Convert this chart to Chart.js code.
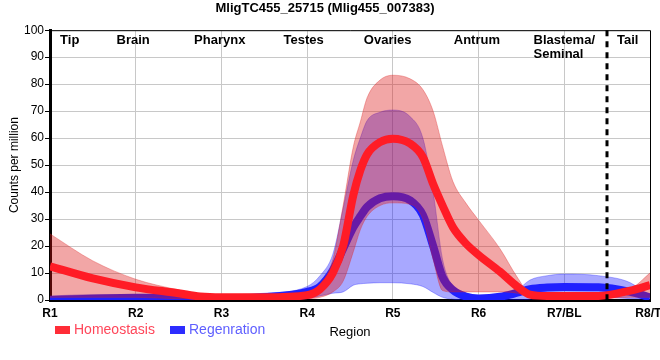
<!DOCTYPE html>
<html>
<head>
<meta charset="utf-8">
<script src="https://cdn.jsdelivr.net/npm/chart.js@4.4.1/dist/chart.umd.min.js"></script>
<style>
  html, body { margin: 0; padding: 0; background: #fff; }
  #wrap { width: 660px; height: 360px; }
</style>
</head>
<body>
<div id="wrap"><canvas id="chart" width="660" height="360"></canvas></div>
<script>
const xs = [1, 1.5, 2, 2.5, 2.75, 3, 3.5, 4, 4.15, 4.3, 4.42, 4.54, 4.62, 4.7, 4.85, 5, 5.2, 5.35, 5.47, 5.58, 5.7, 5.85, 6, 6.25, 6.45, 6.6, 6.8, 7, 7.4, 7.77, 8];

// Homeostasis: mean and band
const homeoMean  = [12.5, 8, 4.7, 2.5, 1.3, 1, 1, 1.8, 4, 10, 20, 39, 48, 54, 58.5, 59.8, 58, 53, 43, 35, 27, 21, 16.7, 10.5, 5, 2, 1.5, 1.5, 1.5, 3.5, 5.5];
const homeoUpper = [24.5, 14.5, 7.7, 3.7, 2, 1.8, 1.8, 3, 6, 15, 35, 57, 66, 75, 81.5, 83.3, 82, 78, 70, 57, 44, 36, 29.6, 19, 8.5, 2.5, 2, 2, 2, 4, 10];
const homeoLower = [1, 1, 1, 0.5, 0.5, 0.5, 0.5, 0.5, 1, 3, 7, 18, 26, 31, 35, 36, 35.5, 30, 15, 3.5, 3, 3, 3, 3, 2.5, 1, 0.5, 0.5, 0.5, 1, 1];

// Regeneration: mean and band
const regenMean  = [0, 0.5, 0.8, 0.8, 0.6, 0.5, 1, 3, 5, 11, 19, 27, 31, 34.5, 37.7, 38.5, 37, 31.5, 20, 8.5, 3.7, 1.3, 0.6, 1.2, 2.7, 4, 4.6, 4.8, 4.7, 3, 1];
const regenUpper = [1.5, 2, 2, 2, 2, 2, 2.5, 5, 9, 17, 34, 52, 60, 66.5, 69.6, 70.4, 68, 60, 40, 15, 5, 2, 1.5, 1.5, 3.7, 7.4, 9, 9.6, 9, 6.4, 1.2];
const regenLower = [0, 0, 0, 0, 0, 0, 0, 0.5, 1.5, 2.5, 3, 5.5, 6, 6.2, 6.4, 6.4, 6, 5, 2.8, 1, 0.3, 0, 0, 0, 0, 0.3, 0.8, 1.5, 1.2, 0.5, 0.3];

const tickLabels = ['R1', 'R2', 'R3', 'R4', 'R5', 'R6', 'R7/BL', 'R8/TI'];
const regionNames = [['Tip'], ['Brain'], ['Pharynx'], ['Testes'], ['Ovaries'], ['Antrum'], ['Blastema/', 'Seminal'], ['Tail']];
const regionAt = [1.23, 1.97, 2.98, 3.96, 4.94, 5.98, 7.0, 7.74];
const dividerAt = 7.5;

const FONT = '"Liberation Sans", Arial, sans-serif';

function pts(arr) {
    return xs.map((x, i) => ({ x: x, y: arr[i] }));
}

// region names, divider, top/right frame and legend
const extras = {
    id: 'extras',
    afterDatasetsDraw(chart) {
        const { ctx, chartArea: a, scales: { x } } = chart;
        ctx.save();
        ctx.strokeStyle = '#000';
        ctx.lineWidth = 1;
        ctx.beginPath();
        ctx.moveTo(a.left, a.top + 0.5);
        ctx.lineTo(a.right + 0.5, a.top + 0.5);
        ctx.lineTo(a.right + 0.5, a.bottom);
        ctx.stroke();

        const dx = Math.round(x.getPixelForValue(dividerAt));
        ctx.lineWidth = 3;
        ctx.setLineDash([6, 5]);
        ctx.beginPath();
        ctx.moveTo(dx, a.top);
        ctx.lineTo(dx, a.bottom);
        ctx.stroke();
        ctx.restore();
    },
    afterDraw(chart) {
        const { ctx, scales: { x } } = chart;
        ctx.save();
        ctx.fillStyle = '#000';
        ctx.font = 'bold 13px ' + FONT;
        ctx.textBaseline = 'middle';
        regionNames.forEach((lines, i) => {
            const cx = x.getPixelForValue(regionAt[i]);
            const w = ctx.measureText(lines[0]).width;
            ctx.textAlign = 'left';
            lines.forEach((t, j) => ctx.fillText(t, cx - w / 2, 40 + j * 14));
        });

        // legend
        const items = [
            { text: 'Homeostasis', box: 'rgb(255,45,55)', color: 'rgb(255,70,90)', x: 55 },
            { text: 'Regenration', box: 'rgb(45,45,255)', color: 'rgb(95,95,255)', x: 170 }
        ];
        ctx.font = '14px ' + FONT;
        items.forEach(it => {
            ctx.fillStyle = it.box;
            ctx.fillRect(it.x, 326, 15, 8);
            ctx.fillStyle = it.color;
            ctx.fillText(it.text, it.x + 19, 330);
        });
        ctx.restore();
    }
};

const bandStyle = (line) => ({
    borderColor: line,
    borderWidth: 1,
    pointRadius: 0,
    cubicInterpolationMode: 'monotone'
});

new Chart(document.getElementById('chart'), {
    type: 'line',
    data: {
        datasets: [
            { label: 'Homeostasis', data: pts(homeoMean), borderColor: 'rgb(255,28,38)', borderWidth: 8, pointRadius: 0, cubicInterpolationMode: 'monotone', fill: false },
            Object.assign({ data: pts(homeoUpper), fill: '+1', backgroundColor: 'rgba(220,20,20,0.38)' }, bandStyle('rgba(220,40,40,0.35)')),
            Object.assign({ data: pts(homeoLower), fill: false }, bandStyle('rgba(220,40,40,0.35)')),
            { label: 'Regenration', data: pts(regenMean), borderColor: 'rgb(32,32,255)', borderWidth: 8, pointRadius: 0, cubicInterpolationMode: 'monotone', fill: false },
            Object.assign({ data: pts(regenUpper), fill: '+1', backgroundColor: 'rgba(0,0,255,0.34)' }, bandStyle('rgba(40,40,255,0.35)')),
            Object.assign({ data: pts(regenLower), fill: false }, bandStyle('rgba(40,40,255,0.35)'))
        ]
    },
    options: {
        responsive: false,
        animation: false,
        layout: { padding: { left: 0, right: 10, top: 0, bottom: 0 } },
        plugins: {
            legend: { display: false },
            tooltip: { enabled: false },
            title: {
                display: true,
                text: 'MligTC455_25715 (Mlig455_007383)',
                color: '#000',
                font: { family: FONT, size: 13, weight: 'bold' },
                padding: { top: 1, bottom: 13.6 }
            }
        },
        scales: {
            x: {
                type: 'linear',
                min: 1,
                max: 8,
                afterFit: s => { s.height = 60; s.paddingRight = 0; s.paddingLeft = 0; },
                ticks: {
                    stepSize: 1,
                    autoSkip: false,
                    maxRotation: 0,
                    padding: 2,
                    color: '#000',
                    font: { family: FONT, size: 12, weight: 'bold' },
                    callback: v => tickLabels[v - 1]
                },
                grid: { color: 'rgb(200,200,200)', tickLength: 4, tickColor: 'rgba(0,0,0,0)' },
                border: { color: '#000', width: 3 },
                title: {
                    display: true,
                    text: 'Region',
                    color: '#000',
                    font: { family: FONT, size: 13 },
                    padding: { top: 4, bottom: 20 }
                }
            },
            y: {
                min: 0,
                max: 100,
                afterFit: s => { s.width = 50; },
                ticks: {
                    stepSize: 10,
                    padding: 1,
                    color: '#000',
                    font: { family: FONT, size: 12 }
                },
                grid: { color: 'rgb(200,200,200)', tickLength: 5, tickColor: '#000' },
                border: { color: '#000', width: 3 },
                title: {
                    display: true,
                    text: 'Counts per million',
                    color: '#000',
                    font: { family: FONT, size: 12 },
                    padding: { top: 7, bottom: 0 }
                }
            }
        }
    },
    plugins: [extras]
});
</script>
</body>
</html>
